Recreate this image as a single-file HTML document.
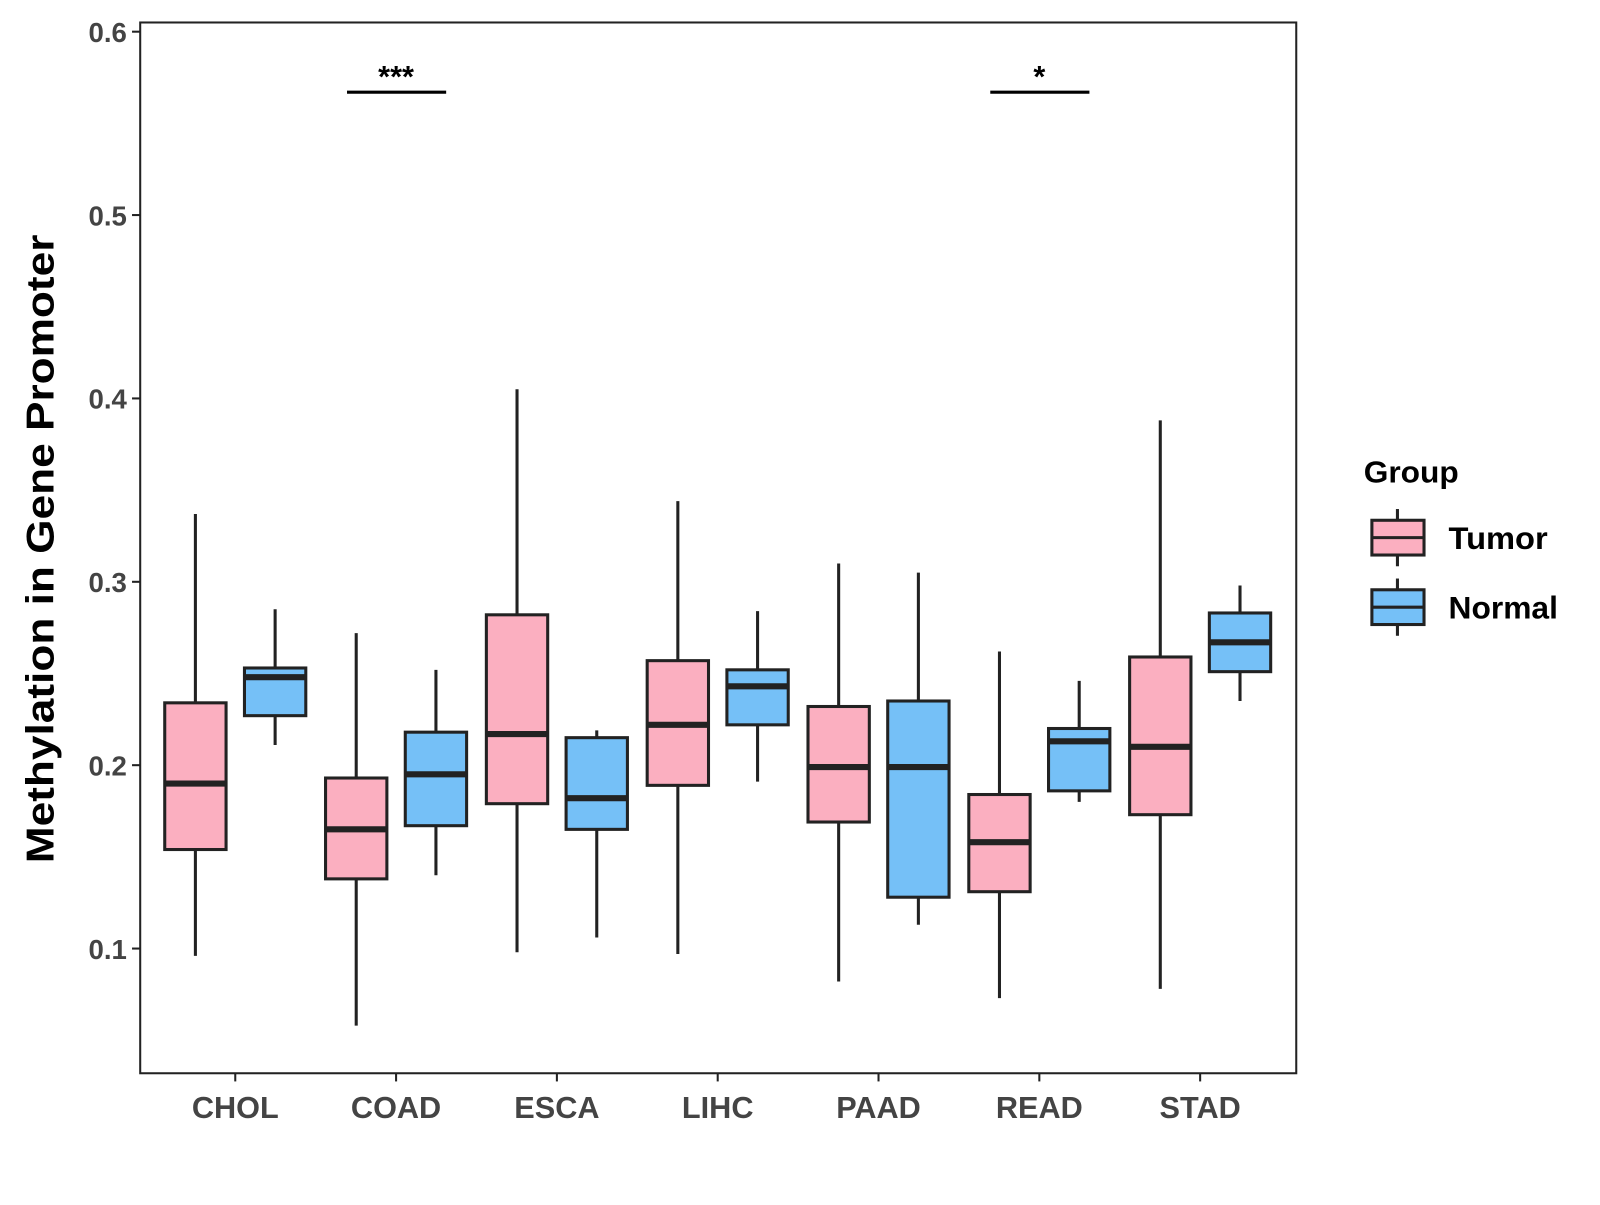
<!DOCTYPE html>
<html><head><meta charset="utf-8"><style>
body{margin:0;background:#fff}
svg text{font-family:"Liberation Sans",Arial,sans-serif;font-weight:bold}
</style></head><body>
<svg id="chart" width="1600" height="1200" viewBox="0 0 1565 1174" xmlns="http://www.w3.org/2000/svg">
<rect x="137" y="22" width="1131" height="1028" fill="#fff" stroke="#222" stroke-width="2"/>
<g id="marks"></g>
<text x="52" y="537" transform="rotate(-90 52 537)" text-anchor="middle" font-size="38" textLength="615" lengthAdjust="spacingAndGlyphs" fill="#000">Methylation in Gene Promoter</text>
<text x="1334" y="472" font-size="30" textLength="93" lengthAdjust="spacingAndGlyphs" fill="#000">Group</text>
<g>
<line x1="1367" y1="498" x2="1367" y2="554" stroke="#222" stroke-width="3"/>
<rect x="1342" y="509" width="51" height="34" fill="#FBAFC0" stroke="#222" stroke-width="3"/>
<line x1="1342" y1="526" x2="1393" y2="526" stroke="#222" stroke-width="3"/>
<text x="1417" y="537" font-size="31" textLength="97" lengthAdjust="spacingAndGlyphs" fill="#000">Tumor</text></g>
<g>
<line x1="1367" y1="566" x2="1367" y2="622" stroke="#222" stroke-width="3"/>
<rect x="1342" y="577" width="51" height="34" fill="#75C0F7" stroke="#222" stroke-width="3"/>
<line x1="1342" y1="594" x2="1393" y2="594" stroke="#222" stroke-width="3"/>
<text x="1417" y="605" font-size="31" textLength="107" lengthAdjust="spacingAndGlyphs" fill="#000">Normal</text></g>
</svg>
<script>
const categories=["CHOL","COAD","ESCA","LIHC","PAAD","READ","STAD"];
// [min, q1, median, q3, max]
const tumorStats=[[0.096,0.154,0.190,0.234,0.337],[0.058,0.138,0.165,0.193,0.272],[0.098,0.179,0.217,0.282,0.405],[0.097,0.189,0.222,0.257,0.344],[0.082,0.169,0.199,0.232,0.310],[0.073,0.131,0.158,0.184,0.262],[0.078,0.173,0.210,0.259,0.388]];
const normalStats=[[0.211,0.227,0.248,0.253,0.285],[0.140,0.167,0.195,0.218,0.252],[0.106,0.165,0.182,0.215,0.219],[0.191,0.222,0.243,0.252,0.284],[0.113,0.128,0.199,0.235,0.305],[0.180,0.186,0.213,0.220,0.246],[0.235,0.251,0.267,0.283,0.298]];
const yTicks=[0.1,0.2,0.3,0.4,0.5,0.6];
const sigLabels=["","***","","","","*",""];
const sigY=0.567;
const NS="http://www.w3.org/2000/svg";
const g=document.getElementById('marks');
function y(v){return 31+(0.6-v)*1794;}
function x(i){return 230+i*157.33;}
function mk(t,a,p){const e=document.createElementNS(NS,t);for(const k in a)e.setAttribute(k,a[k]);(p||g).appendChild(e);return e;}
yTicks.forEach(t=>{
 const l=mk('line',{x1:129,x2:137,y1:y(t),y2:y(t),stroke:'#222','stroke-width':2});
 
 
 const tx=mk('text',{x:124,y:y(t)+10,'text-anchor':'end','font-size':27,fill:'#444'});
 tx.textContent=t.toFixed(1);
 
 
});
categories.forEach((c,i)=>{
 const l=mk('line',{x1:x(i),x2:x(i),y1:1050,y2:1058,stroke:'#222','stroke-width':2});
 
 
 const tx=mk('text',{x:x(i),y:1094,'text-anchor':'middle','font-size':30,fill:'#444'});
 tx.textContent=c;
 
 
 [[tumorStats[i],-39,'#FBAFC0','tumor'],[normalStats[i],39,'#75C0F7','normal']].forEach(([s,off,col,nm])=>{
  const cx=x(i)+off,bg=mk('g',{});
  
  
  mk('line',{x1:cx,x2:cx,y1:y(s[4]),y2:y(s[0]),stroke:'#222','stroke-width':3},bg);
  mk('rect',{x:cx-30,y:y(s[3]),width:60,height:y(s[1])-y(s[3]),fill:col,stroke:'#222','stroke-width':3},bg);
  mk('line',{x1:cx-30,x2:cx+30,y1:y(s[2]),y2:y(s[2]),stroke:'#222','stroke-width':6},bg);
 });
 if(sigLabels[i]){
  const b=mk('line',{x1:x(i)-48,x2:x(i)+49,y1:y(sigY),y2:y(sigY),stroke:'#000','stroke-width':3});
  
  
  const st=mk('text',{x:x(i),y:y(sigY)-5,'text-anchor':'middle','font-size':30,fill:'#000'});
  st.textContent=sigLabels[i];
  
  
 }
});
</script>
</body></html>
